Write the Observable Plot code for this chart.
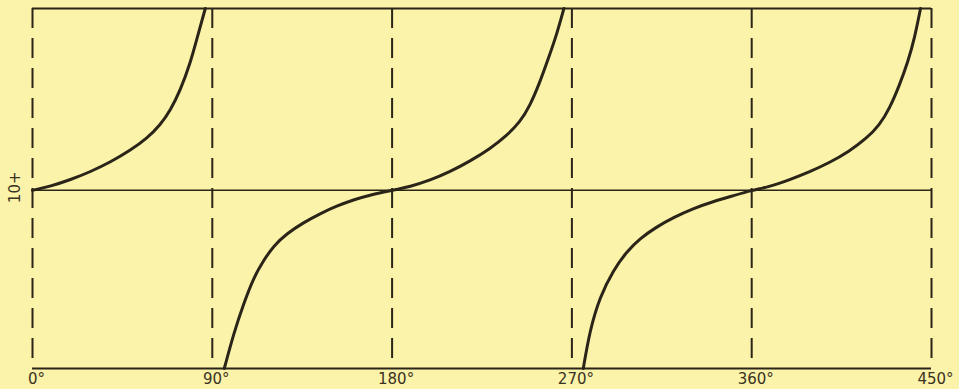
<!DOCTYPE html>
<html>
<head>
<meta charset="utf-8">
<script src="https://cdn.jsdelivr.net/npm/d3@7"></script>
<script src="https://cdn.jsdelivr.net/npm/@observablehq/plot@0.6"></script>
<style>
  html, body { margin: 0; padding: 0; background: #fbf3a9; }
</style>
</head>
<body>
<div id="chart"></div>
<script>
// Tick positions (degrees) and labels
const xTicks = [0, 90, 180, 270, 360, 450];
const xTickLabels = ["0°", "90°", "180°", "270°", "360°", "450°"];
const yLabel = "10+";

// Curve branches: angle (degrees) and value
const branch1Deg = [0, 9, 19, 29, 39, 49, 57.3, 64, 69, 74, 79, 82.3, 86.5];
const branch1Val = [0, 0.22, 0.58, 1.02, 1.55, 2.2, 2.86, 3.6, 4.4, 5.5, 7.0, 8.35, 10];

const branch2Deg = [96, 100.7, 105.7, 110.7, 115.7, 120.7, 127.3, 135.7, 144, 152.3, 160.7, 169, 180,
                    189, 199, 209, 219, 229, 237.3, 244, 249, 254, 258.2, 262.3, 266];
const branch2Val = [-9.8, -7.88, -6.23, -4.8, -3.85, -3.05, -2.38, -1.77, -1.28, -0.86, -0.52, -0.25, 0,
                    0.2, 0.55, 1.02, 1.6, 2.28, 3.0, 3.75, 4.65, 5.95, 7.25, 8.53, 10];

const branch3Deg = [275.7, 279, 284, 290.7, 297.3, 304, 312.3, 320.7, 330.7, 340.7, 350.7, 360,
                    369, 379, 389, 399, 409, 417.3, 424, 429, 434, 438.2, 441.5, 444.5];
const branch3Val = [-9.8, -7.69, -5.86, -4.4, -3.39, -2.65, -2.02, -1.5, -1.0, -0.62, -0.3, 0,
                    0.2, 0.58, 1.02, 1.52, 2.16, 2.84, 3.59, 4.5, 5.79, 7.07, 8.35, 10];

const yMin = -9.8, yMax = 10;

const curveData = [
  ...branch1Deg.map((d, i) => ({deg: d, val: branch1Val[i], branch: 1})),
  ...branch2Deg.map((d, i) => ({deg: d, val: branch2Val[i], branch: 2})),
  ...branch3Deg.map((d, i) => ({deg: d, val: branch3Val[i], branch: 3}))
];
const tickData = xTicks.map((t, i) => ({deg: t, label: xTickLabels[i]}));

const ink = "#2b2418";

const chart = Plot.plot({
  width: 959,
  height: 389,
  marginLeft: 32,
  marginRight: 28,
  marginTop: 8,
  marginBottom: 21,
  style: {background: "#fbf3a9", fontFamily: "'DejaVu Sans', sans-serif"},
  x: {domain: [0, 450], axis: null},
  y: {domain: [yMin, yMax], axis: null},
  marks: [
    Plot.ruleX(xTicks, {stroke: ink, strokeWidth: 2, strokeDasharray: "20,10"}),
    Plot.ruleY([yMax, yMin], {stroke: ink, strokeWidth: 1.8}),
    Plot.ruleY([0], {stroke: ink, strokeWidth: 1.5}),
    Plot.line(curveData, {x: "deg", y: "val", z: "branch", stroke: ink, strokeWidth: 3, curve: "basis"}),
    Plot.text(tickData, {x: "deg", y: yMin, text: "label", dy: 11, dx: 4, fontSize: 15, fill: "#3a3222"}),
    Plot.text([yLabel], {x: 0, y: 0, text: d => d, rotate: -90, dx: -17, dy: -3, fontSize: 15, fill: "#3a3222"})
  ]
});
document.getElementById("chart").appendChild(chart);
</script>
</body>
</html>
